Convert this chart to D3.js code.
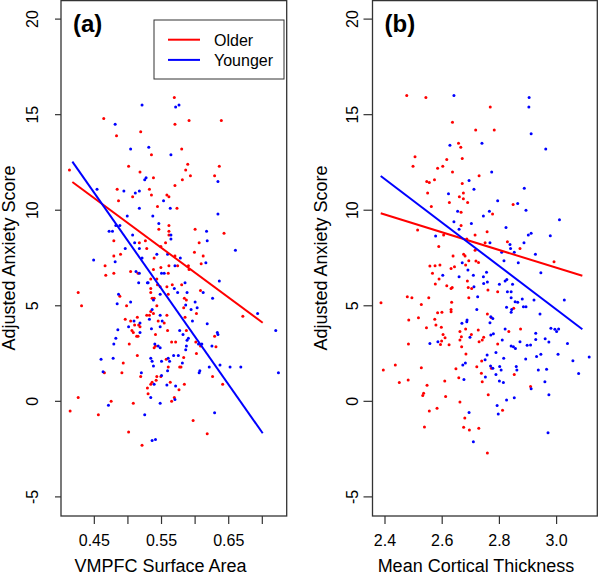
<!DOCTYPE html>
<html>
<head>
<meta charset="utf-8">
<script src="https://cdn.jsdelivr.net/npm/d3@7"></script>
<style>
  body { margin: 0; background: #fff; }
  svg { display: block; font-family: "Liberation Sans", Arial, sans-serif; }
</style>
</head>
<body>
<div id="chart"></div>
<script>
// --- DATA ---
const yTicks = [-5, 0, 5, 10, 15, 20];
const xTicksA = [0.45, 0.50, 0.55, 0.60, 0.65, 0.70];
const xLabelsA = [0.45, 0.55, 0.65];
const xTicksB = [2.4, 2.6, 2.8, 3.0];
const seriesNames = ["Older", "Younger"];

// panel (a): VMPFC surface area vs adjusted anxiety
const olderA = [
  [0.569,15.9],[0.464,14.8],[0.570,14.5],[0.519,14.1],[0.483,13.9],[0.535,12.9],[0.501,12.3],[0.413,12.1],[0.518,12.0],[0.538,11.7],
  [0.570,11.3],[0.484,11.1],[0.532,11.1],[0.507,10.7],[0.535,10.8],[0.558,10.8],[0.561,10.7],[0.486,10.5],[0.544,10.2],[0.573,10.1],
  [0.561,9.2],[0.546,9.0],[0.561,8.9],[0.561,8.7],[0.479,8.4],[0.517,8.3],[0.526,8.4],[0.556,8.3],[0.528,8.0],[0.549,8.1],
  [0.489,7.7],[0.479,7.6],[0.539,7.5],[0.570,7.6],
  [0.591,14.7],[0.639,14.7],[0.580,13.2],[0.589,12.4],[0.586,12.1],[0.636,12.3],[0.593,11.8],[0.629,11.8],[0.581,11.6],[0.600,9.0],
  [0.643,8.8],[0.606,8.3],[0.599,7.8],[0.612,7.6],
  [0.466,7.1],[0.479,6.7],[0.467,6.6],[0.504,6.8],[0.515,6.7],[0.538,6.9],[0.560,6.7],[0.549,7.0],[0.561,7.1],[0.574,7.1],
  [0.534,6.4],[0.543,6.4],[0.544,6.1],[0.548,6.0],[0.558,6.0],[0.566,6.1],[0.426,5.7],[0.534,5.9],[0.534,5.7],[0.536,5.4],
  [0.539,5.4],[0.488,5.5],[0.560,5.6],[0.431,5.0],[0.498,5.0],[0.543,5.0],[0.538,4.6],[0.534,4.7],[0.532,4.5],[0.558,4.5],
  [0.545,4.2],[0.528,4.5],[0.554,4.1],[0.496,4.3],[0.504,4.2],[0.506,3.7],[0.514,4.4],[0.516,4.0],[0.510,4.0],[0.518,3.9],
  [0.508,3.6],[0.513,3.4],[0.515,3.4],[0.541,3.5],[0.559,3.7],[0.565,3.1],[0.571,3.1],[0.502,3.0],[0.541,2.9],[0.539,2.8],
  [0.514,2.4],[0.493,2.0],[0.557,2.2],[0.577,1.8],[0.465,1.5],[0.491,1.5],[0.519,1.3],[0.560,1.8],[0.543,1.3],[0.549,1.3],
  [0.536,1.0],[0.534,0.9],[0.542,1.1],[0.563,1.0],[0.529,0.7],[0.576,0.6],[0.530,0.4],[0.569,0.2],[0.565,0.0],[0.426,0.2],
  [0.475,0.0],[0.508,-0.1],[0.414,-0.5],[0.456,-0.7],[0.501,-1.6],[0.521,-2.3],
  [0.609,7.2],[0.590,7.1],[0.591,6.9],[0.580,6.1],[0.608,5.8],[0.584,5.4],[0.587,5.3],[0.583,4.9],[0.602,4.6],[0.585,4.4],
  [0.671,4.45],[0.587,3.7],[0.629,3.4],[0.601,3.1],[0.608,2.9],[0.631,2.85],[0.602,2.5],[0.583,2.3],[0.579,1.8],[0.626,1.3],
  [0.641,0.9],[0.584,0.9],[0.597,-1.0],[0.618,-1.7]
];
const youngerA = [
  [0.521,15.5],[0.571,15.4],[0.576,15.5],[0.481,14.5],[0.504,13.2],[0.531,13.3],[0.564,12.9],[0.525,11.6],[0.527,11.7],[0.454,11.1],
  [0.494,11.0],[0.511,10.9],[0.517,11.0],[0.553,10.5],[0.563,10.1],[0.517,10.1],[0.499,9.7],[0.537,9.7],[0.546,9.3],[0.482,9.2],
  [0.488,9.2],[0.472,8.9],[0.477,8.9],[0.507,8.7],[0.564,8.7],[0.564,8.5],[0.510,8.3],[0.496,8.0],[0.517,8.0],[0.559,7.7],
  [0.543,7.7],[0.521,7.5],[0.449,7.4],
  [0.634,11.5],[0.634,9.8],[0.617,8.9],[0.618,8.4],[0.660,7.9],[0.578,7.5],
  [0.481,7.3],[0.512,6.8],[0.517,6.7],[0.550,6.7],[0.554,6.7],[0.570,7.1],[0.516,6.2],[0.529,6.2],[0.530,6.2],[0.569,5.9],
  [0.486,5.6],[0.548,5.6],[0.574,5.7],[0.538,5.3],[0.484,5.1],[0.504,5.2],[0.536,4.8],[0.532,4.3],[0.548,4.5],[0.551,4.2],
  [0.501,3.9],[0.509,4.2],[0.518,4.1],[0.535,3.8],[0.518,3.6],[0.548,3.9],[0.577,3.7],[0.485,3.75],[0.482,3.3],[0.479,3.0],
  [0.540,3.0],[0.545,2.9],[0.548,2.8],[0.575,2.4],[0.568,2.4],[0.460,2.2],[0.478,2.25],[0.534,2.25],[0.536,2.1],[0.560,2.25],
  [0.562,2.1],[0.550,2.1],[0.538,1.85],[0.463,1.55],[0.520,1.5],[0.559,1.6],[0.550,1.35],[0.539,0.9],[0.558,0.85],[0.571,0.8],
  [0.534,0.2],[0.570,0.1],[0.471,-0.2],[0.548,-0.1],[0.525,-0.7],[0.536,-2.05],[0.541,-2.0],
  [0.616,7.25],[0.636,6.3],[0.585,6.2],[0.612,5.7],[0.588,5.7],[0.626,5.4],[0.600,5.2],[0.603,4.9],[0.594,4.8],[0.586,5.04],
  [0.596,4.2],[0.693,4.6],[0.618,4.06],[0.582,3.5],[0.633,3.6],[0.634,3.5],[0.590,3.3],[0.588,3.2],[0.605,3.0],[0.610,3.0],
  [0.587,2.9],[0.586,2.7],[0.625,2.9],[0.581,2.0],[0.637,1.9],[0.652,1.8],[0.668,1.8],[0.621,1.8],[0.607,1.6],[0.606,1.5],
  [0.629,-0.6],[0.720,3.7],[0.724,1.5]
];
// fitted lines, [start, end]
const fitOlderA = [[0.4173, 11.48], [0.7006, 4.11]];
const fitYoungerA = [[0.4173, 12.54], [0.7006, -1.67]];

// panel (b): mean cortical thickness vs adjusted anxiety
const olderB = [
  [2.476,16.0],[2.543,15.9],[2.636,14.6],[2.717,14.2],[2.657,13.5],[2.665,13.3],[2.505,12.8],[2.670,12.7],[2.616,12.65],[2.498,12.3],
  [2.584,12.2],[2.602,12.3],[2.636,12.0],[2.729,11.8],[2.546,11.5],[2.555,11.45],[2.573,11.6],[2.670,11.4],[2.549,10.9],[2.674,10.9],
  [2.625,10.4],[2.660,10.7],[2.674,10.6],[2.689,10.4],[2.562,10.2],[2.666,9.9],[2.514,8.96],[2.605,8.7],[2.666,9.2],[2.588,8.1],
  [2.715,8.7],[2.686,8.5],[2.638,7.6],[2.675,7.7],[2.680,7.6],[2.715,7.9],
  [2.768,15.4],[2.782,14.2],[2.848,10.3],[2.776,9.8],[2.757,8.87],[2.828,8.35],[2.750,8.3],[2.872,8.0],
  [2.557,7.08],[2.575,7.1],[2.592,7.13],[2.631,6.95],[2.643,7.04],[2.682,7.13],[2.693,7.36],[2.718,7.34],[2.727,7.27],[2.566,6.7],
  [2.589,6.4],[2.688,6.3],[2.576,6.14],[2.616,6.05],[2.631,5.9],[2.635,5.96],[2.691,5.96],[2.703,5.9],[2.478,5.47],[2.494,5.42],
  [2.553,5.42],[2.386,5.16],[2.527,5.07],[2.633,5.18],[2.693,5.42],[2.631,4.8],[2.631,4.69],[2.584,4.64],[2.599,4.66],[2.483,4.25],
  [2.517,4.38],[2.574,4.3],[2.578,4.0],[2.597,3.87],[2.545,3.85],[2.682,3.78],[2.662,3.65],[2.726,3.73],[2.702,3.5],[2.603,3.5],
  [2.610,3.33],[2.667,3.38],[2.662,3.21],[2.598,3.16],[2.594,2.98],[2.624,2.96],[2.482,3.0],[2.668,2.86],[2.729,3.12],[2.683,2.48],
  [2.394,1.64],[2.436,1.9],[2.527,1.76],[2.648,1.71],[2.721,1.81],[2.450,0.98],[2.481,1.12],[2.658,1.24],[2.609,1.07],[2.547,0.84],
  [2.535,0.42],[2.532,0.3],[2.612,0.25],[2.662,-0.03],[2.582,-0.36],[2.555,-0.5],[2.679,-0.87],[2.538,-1.34],[2.675,-1.36],[2.695,-1.5],
  [2.728,-1.41],
  [2.991,7.3],[2.760,5.82],[2.794,5.74],[2.850,4.87],[2.758,4.57],[2.771,4.39],[2.874,3.78],[2.833,3.65],[2.745,3.35],[2.740,3.21],
  [2.794,3.0],[2.738,2.11],[2.772,1.73],[2.852,1.4],[2.737,1.47],[2.740,1.03],[2.909,0.77],[2.761,0.34],[2.811,-0.47],
  [2.758,-2.7]
];
const youngerB = [
  [2.641,16.0],[2.627,13.4],[2.694,11.55],[2.711,11.1],[2.622,10.86],[2.654,9.95],[2.641,9.4],[2.702,9.3],[2.577,8.65],[2.659,9.0],
  [2.904,15.9],[2.903,15.4],[2.911,14.0],[2.739,13.5],[2.962,13.2],[2.773,12.0],[2.887,11.15],[2.794,10.5],[2.864,10.35],[2.893,10.0],
  [2.765,9.95],[2.744,9.7],[3.010,9.5],[2.823,9.1],[2.911,8.8],[2.901,8.7],[2.978,8.66],[2.886,8.3],[2.767,8.3],[2.837,8.2],
  [2.839,8.0],[2.852,7.8],[2.808,7.8],[2.926,7.7],
  [2.670,7.25],[2.690,6.87],[2.709,6.6],[2.602,6.6],[2.659,6.52],[2.711,6.0],[2.724,5.47],[2.721,4.8],[2.669,4.08],[2.687,4.26],
  [2.686,4.17],[2.697,3.35],[2.585,3.12],[2.557,3.03],[2.672,1.9],[2.681,2.0],[2.676,1.14],[2.694,-0.59],[2.709,-2.12],
  [2.945,6.73],[2.816,7.36],[2.866,7.25],[2.755,6.75],[2.744,6.52],[2.820,6.29],[2.826,6.38],[2.745,6.17],[2.758,6.24],[2.800,6.12],
  [2.846,6.12],[2.828,5.74],[2.841,5.74],[2.841,5.42],[2.880,5.35],[2.855,5.21],[2.864,5.18],[2.921,5.3],[3.027,5.3],[2.825,4.92],
  [2.884,4.95],[2.893,4.95],[2.843,4.81],[2.841,4.66],[2.942,4.57],[2.767,4.11],[2.770,4.43],[2.777,4.34],[2.820,3.78],[2.980,3.82],
  [2.994,3.77],[3.000,3.65],[3.007,3.78],[2.779,3.54],[2.770,3.47],[2.927,3.56],[2.810,3.21],[2.872,3.12],[2.927,3.24],[2.960,3.28],
  [2.973,3.1],[3.038,3.03],[2.841,2.9],[2.849,2.86],[2.856,2.76],[2.897,2.93],[2.909,2.95],[2.788,2.55],[2.757,2.43],[2.945,2.46],
  [3.005,2.46],[2.815,2.25],[2.892,2.22],[2.930,2.34],[2.750,2.18],[3.057,2.13],[3.114,2.32],[2.769,1.85],[2.801,1.82],[2.777,1.73],
  [2.806,1.64],[2.859,1.82],[2.861,1.64],[2.936,1.64],[2.965,1.68],[2.751,1.27],[2.788,1.41],[3.077,1.45],[2.800,1.07],[2.814,0.98],
  [2.959,1.03],[2.911,0.66],[2.973,0.34],[2.825,0.07],[2.852,0.19],[2.792,-0.22],[2.796,-0.66],[2.970,-1.64]
];
const fitOlderB = [[2.385, 9.84], [3.090, 6.57]];
const fitYoungerB = [[2.385, 11.79], [3.090, 3.77]];

// --- LAYOUT ---
const W = 600, H = 576;
const plotTop = 0, plotBottom = 516;
const RED = "#ff0000", BLUE = "#0000ff";

const panels = [
  { tag: "(a)", xlab: "VMPFC Surface Area", left: 61, right: 286.7, xdom: [0.4004, 0.7363],
    ticks: xTicksA, labels: xLabelsA, fmt: d3.format(".2f"),
    older: olderA, younger: youngerA, fitO: fitOlderA, fitY: fitYoungerA,
    ytick: 6, ylabGap: 22.7, ytitleX: 14.5, xtitleX: 160.5, legend: true },
  { tag: "(b)", xlab: "Mean Cortical Thickness", left: 372.5, right: 597.3, xdom: [2.3563, 3.1423],
    ticks: xTicksB, labels: xTicksB, fmt: d3.format(".1f"),
    older: olderB, younger: youngerB, fitO: fitOlderB, fitY: fitYoungerB,
    ytick: 9, ylabGap: 14.4, ytitleX: 327, xtitleX: 476, legend: false }
];

const svg = d3.select("#chart").append("svg").attr("width", W).attr("height", H);

const y = d3.scaleLinear().domain([-6, 21]).range([plotBottom, plotTop]);

panels.forEach(p => {
  const x = d3.scaleLinear().domain(p.xdom).range([p.left, p.right]);
  const g = svg.append("g");

  // points
  const dot = (data, c) => g.append("g").selectAll("circle")
    .data(data).enter().append("circle")
    .attr("cx", d => x(d[0])).attr("cy", d => y(d[1]))
    .attr("r", 1.5).attr("fill", c);
  dot(p.older, RED);
  dot(p.younger, BLUE);

  // regression lines
  const line = d3.line().x(d => x(d[0])).y(d => y(d[1]));
  g.append("path").datum(p.fitO).attr("d", line).attr("stroke", RED).attr("stroke-width", 2).attr("fill", "none");
  g.append("path").datum(p.fitY).attr("d", line).attr("stroke", BLUE).attr("stroke-width", 2).attr("fill", "none");

  // box
  g.append("rect").attr("x", p.left).attr("y", plotTop + 0.6)
    .attr("width", p.right - p.left).attr("height", plotBottom - plotTop - 0.6)
    .attr("fill", "none").attr("stroke", "#333").attr("stroke-width", 1.3);

  // y axis
  g.selectAll("line.yt").data(yTicks).enter().append("line")
    .attr("x1", p.left - p.ytick).attr("x2", p.left)
    .attr("y1", d => y(d)).attr("y2", d => y(d))
    .attr("stroke", "#333").attr("stroke-width", 1.2);
  g.selectAll("text.yl").data(yTicks).enter().append("text")
    .attr("transform", d => `translate(${p.left - p.ylabGap},${y(d)}) rotate(-90)`)
    .attr("text-anchor", "middle").style("font-size", "16px")
    .text(d => d);
  g.append("text")
    .attr("transform", `translate(${p.ytitleX},${(plotTop + plotBottom) / 2}) rotate(-90)`)
    .attr("text-anchor", "middle").style("font-size", "18px")
    .text("Adjusted Anxiety Score");

  // x axis
  g.selectAll("line.xt").data(p.ticks).enter().append("line")
    .attr("x1", d => x(d)).attr("x2", d => x(d))
    .attr("y1", plotBottom).attr("y2", plotBottom + 8)
    .attr("stroke", "#333").attr("stroke-width", 1.2);
  g.selectAll("text.xl").data(p.labels).enter().append("text")
    .attr("x", d => x(d)).attr("y", 546)
    .attr("text-anchor", "middle").style("font-size", "16px")
    .text(d => p.fmt(d));
  g.append("text")
    .attr("x", p.xtitleX).attr("y", 571.5)
    .attr("text-anchor", "middle").style("font-size", "18px")
    .text(p.xlab);

  // panel tag
  g.append("text").attr("x", p.left + 12).attr("y", 32)
    .style("font-size", "24px").style("font-weight", "bold")
    .text(p.tag);

  // legend
  if (p.legend) {
    const lg = g.append("g");
    lg.append("rect").attr("x", 154).attr("y", 20).attr("width", 130).attr("height", 59)
      .attr("fill", "#fff").attr("stroke", "#333").attr("stroke-width", 1);
    [RED, BLUE].forEach((c, i) => {
      const ly = 39.7 + i * 20.2;
      lg.append("line").attr("x1", 168).attr("x2", 200).attr("y1", ly).attr("y2", ly)
        .attr("stroke", c).attr("stroke-width", 2);
      lg.append("text").attr("x", 214).attr("y", ly + 5.8)
        .style("font-size", "16px").text(seriesNames[i]);
    });
  }
});
</script>
</body>
</html>
